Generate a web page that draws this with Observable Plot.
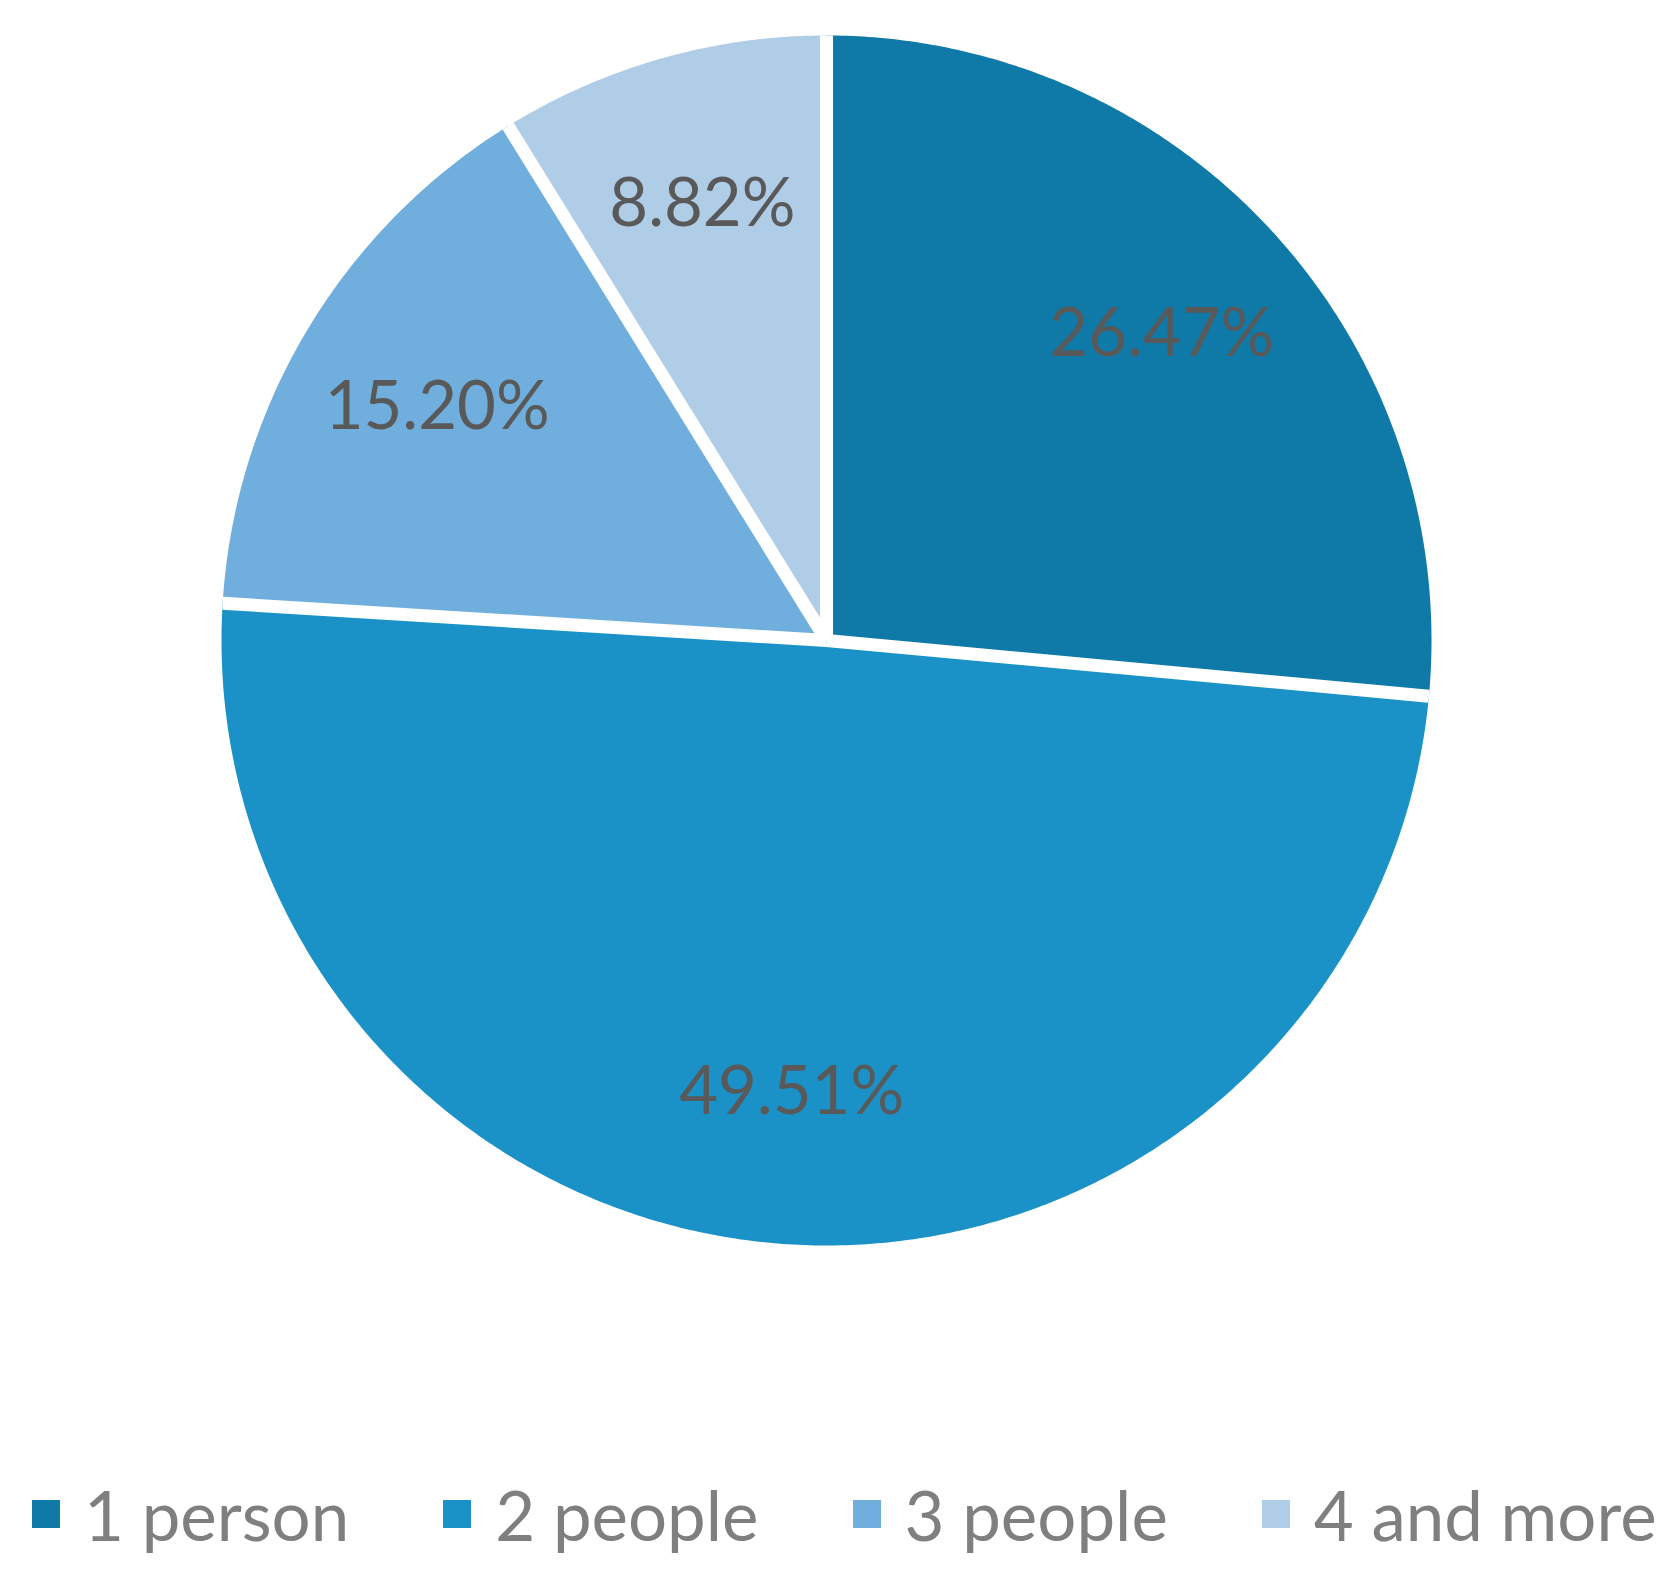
<!DOCTYPE html>
<html>
<head>
<meta charset="utf-8">
<script src="https://cdn.jsdelivr.net/npm/d3@7"></script>
<script src="https://cdn.jsdelivr.net/npm/@observablehq/plot@0.6"></script>
<style>
  html, body { margin: 0; padding: 0; background: #fff; }
  #wrap { position: relative; width: 1679px; height: 1584px; overflow: hidden; }
  #legend { position: absolute; left: 0; top: 1478px; width: 1679px; height: 72px; display: flex; align-items: center;
            padding-left: 32px; box-sizing: border-box; white-space: nowrap;
            font-family: Lato, "Open Sans", sans-serif; font-size: 69px; color: #7f7f7f; }
  .item { display: flex; align-items: center; margin-right: 94px; flex-shrink: 0; white-space: nowrap; }
  .sw { width: 28px; height: 28px; margin-right: 24px; flex-shrink: 0; }
</style>
</head>
<body>
<div id="wrap">
  <div id="chart"></div>
  <div id="legend"></div>
</div>
<script>
const categories = ["1 person", "2 people", "3 people", "4 and more"];
const shares = [26.47, 49.51, 15.20, 8.82];
const labels = ["26.47%", "49.51%", "15.20%", "8.82%"];
const colors = ["#0f79a8", "#1a92c8", "#6faedd", "#b0cde8"];

const arcs = d3.pie().sort(null).value((d, i) => shares[i])(categories);
const slices = arcs.map((a, i) => ({cat: categories[i], label: labels[i], start: a.startAngle, end: a.endAngle}));

// polygon outline of each slice, in unit-circle coordinates (angle 0 at top, clockwise)
const pts = [];
for (const s of slices) {
  pts.push({cat: s.cat, x: 0, y: 0});
  const n = Math.max(2, Math.ceil((s.end - s.start) / (Math.PI / 360)));
  for (let k = 0; k <= n; k++) {
    const a = s.start + (s.end - s.start) * k / n;
    pts.push({cat: s.cat, x: Math.sin(a), y: Math.cos(a)});
  }
}
const edges = slices.map(s => ({x1: 0, y1: 0, x2: Math.sin(s.start), y2: Math.cos(s.start)}));
const f = 0.75;
const labelPts = slices.map(s => {
  const m = (s.start + s.end) / 2;
  return {label: s.label, x: f * Math.sin(m), y: f * Math.cos(m)};
});

const chart = Plot.plot({
  width: 1679,
  height: 1440,
  marginLeft: 221,
  marginRight: 248,
  marginTop: 35,
  marginBottom: 195,
  x: {domain: [-1, 1], axis: null},
  y: {domain: [-1, 1], axis: null},
  color: {domain: categories, range: colors},
  style: {background: "#fff"},
  marks: [
    Plot.line(pts, {x: "x", y: "y", z: "cat", fill: "cat", stroke: "none", curve: "linear"}),
    Plot.link(edges, {x1: "x1", y1: "y1", x2: "x2", y2: "y2", stroke: "white", strokeWidth: 13}),
    Plot.text(labelPts, {x: "x", y: "y", text: "label", fill: "#595959", fontSize: 67,
      fontFamily: "Lato, 'Open Sans', sans-serif", textAnchor: "middle", lineAnchor: "middle"})
  ]
});
document.getElementById("chart").appendChild(chart);

const legend = document.getElementById("legend");
categories.forEach((c, i) => {
  const it = document.createElement("div");
  it.className = "item";
  const sw = document.createElement("span");
  sw.className = "sw";
  sw.style.background = colors[i];
  const tx = document.createElement("span");
  tx.textContent = c;
  it.appendChild(sw);
  it.appendChild(tx);
  legend.appendChild(it);
});
</script>
</body>
</html>
